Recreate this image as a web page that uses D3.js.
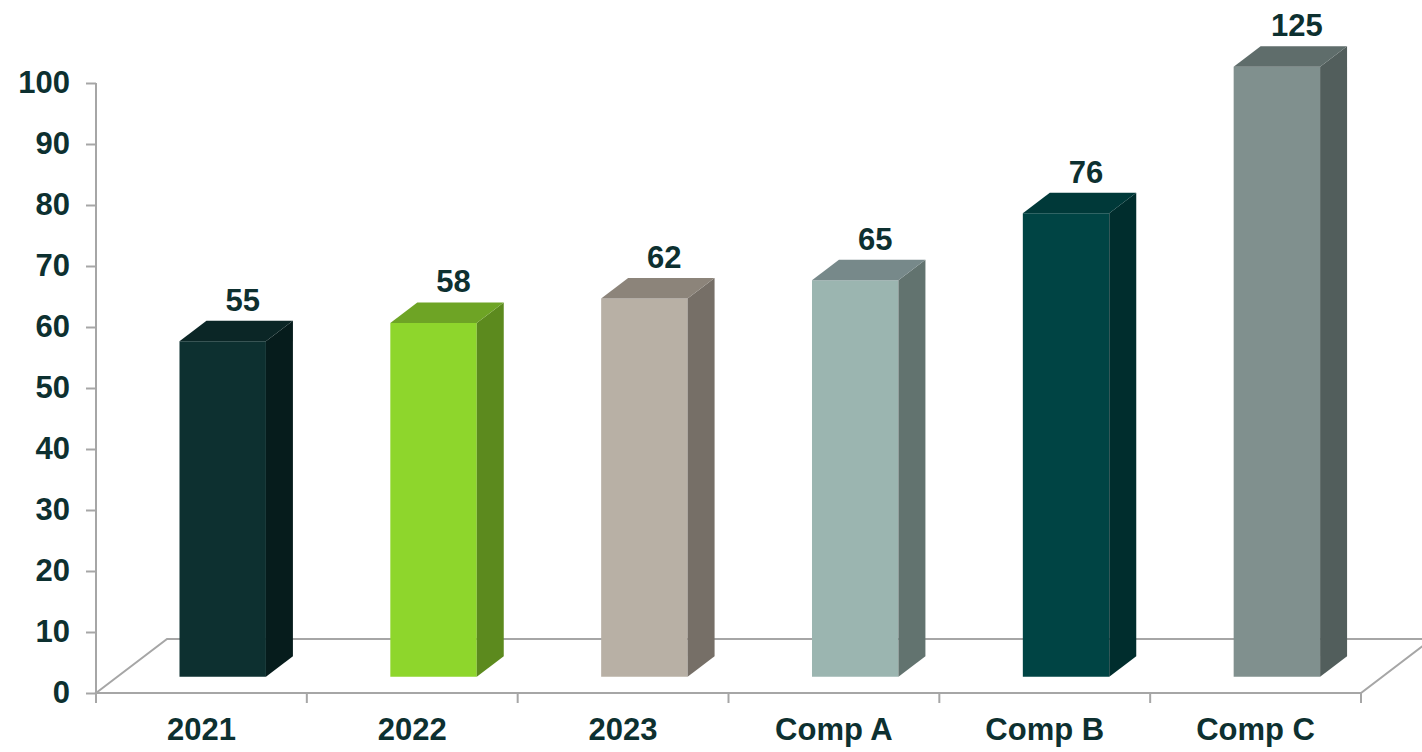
<!DOCTYPE html>
<html>
<head>
<meta charset="utf-8">
<script src="https://cdn.jsdelivr.net/npm/d3@7"></script>
<style>
  html, body { margin: 0; padding: 0; background: #ffffff; }
  svg { display: block; font-family: "Liberation Sans", Arial, sans-serif; }
</style>
</head>
<body>
<svg id="chart" width="1422" height="752"></svg>
<script>
// Categories and values
const categories = ["2021", "2022", "2023", "Comp A", "Comp B", "Comp C"];
const values = [55, 58, 62, 65, 76, 125];
const yTicks = [0, 10, 20, 30, 40, 50, 60, 70, 80, 90, 100];

// Face colours per bar: front, side, top
const frontColors = ["#0d3030", "#8ed62c", "#b8b0a5", "#9bb5b0", "#004444", "#80908e"];
const sideColors  = ["#061c1c", "#5c8a1e", "#766f67", "#62736f", "#002d2d", "#525e5c"];
const topColors   = ["#0b2626", "#6ea425", "#8c847a", "#77898a", "#003939", "#5f6d6b"];

const svg = d3.select("#chart");
const ink = "#0d3030";
const gridGray = "#a6a6a6";
const fontSize = 31;

// Front plane scales
const x = d3.scaleBand().domain(categories).range([96, 1361]).padding(0);
const y = d3.scaleLinear().domain([0, 100]).range([693, 83]).clamp(true);

// Depth vector for the full floor depth
const DX = 71, DY = -54;
const proj = (px, v, z) => [px + DX * z, y(v) + DY * z];

// Bar geometry in depth units
const zFront = 0.3, zBack = 0.68;
const barFrac = 0.41;

// Floor outline (closed)
const x0 = x.range()[0], x1 = x.range()[1];
const floor = svg.append("g").attr("fill", "none").attr("stroke", gridGray).attr("stroke-width", 2);
const fl = [proj(x0, 0, 0), proj(x0, 0, 1), proj(x1, 0, 1), proj(x1, 0, 0)];
floor.append("path").attr("d", d3.line()(fl) + "Z");

// Bars
const bars = svg.append("g");
const poly = pts => "M" + pts.map(p => p.join(",")).join("L") + "Z";
categories.forEach((c, i) => {
  const v = values[i];
  const bw = x.bandwidth() * barFrac;
  const cx = x(c) + x.bandwidth() / 2;
  const L = cx - bw / 2, R = cx + bw / 2;
  const g = bars.append("g");
  // front
  g.append("path").attr("fill", frontColors[i]).attr("d", poly([
    proj(L, 0, zFront), proj(R, 0, zFront), proj(R, v, zFront), proj(L, v, zFront)]));
  // right side
  g.append("path").attr("fill", sideColors[i]).attr("d", poly([
    proj(R, 0, zFront), proj(R, 0, zBack), proj(R, v, zBack), proj(R, v, zFront)]));
  // top
  g.append("path").attr("fill", topColors[i]).attr("d", poly([
    proj(L, v, zFront), proj(R, v, zFront), proj(R, v, zBack), proj(L, v, zBack)]));
  // value label
  const [tx, ty] = proj(cx, v, zBack);
  svg.append("text")
    .attr("x", tx - 7).attr("y", ty - 10)
    .attr("text-anchor", "middle")
    .attr("fill", ink)
    .attr("font-size", fontSize).attr("font-weight", "bold")
    .text(v);
});

// Y axis
const yAxis = svg.append("g").attr("transform", "translate(96,0)")
  .call(d3.axisLeft(y).tickValues(yTicks).tickSize(10).tickPadding(16));
yAxis.selectAll("path, line").attr("stroke", gridGray).attr("stroke-width", 2);
yAxis.select(".domain").attr("d", "M-0," + y(100) + "V" + (y(0) + 10));
yAxis.selectAll("text").attr("fill", ink).attr("font-size", fontSize).attr("font-weight", "bold")
  .attr("font-family", "Liberation Sans, Arial, sans-serif");

// X axis along the front floor edge
const xAxis = svg.append("g").attr("transform", "translate(0," + y(0) + ")")
  .call(d3.axisBottom(x).tickSize(0).tickPadding(25));
xAxis.select(".domain").remove();
xAxis.selectAll("text").attr("fill", ink).attr("font-size", fontSize).attr("font-weight", "bold")
  .attr("font-family", "Liberation Sans, Arial, sans-serif");
const edges = categories.map(c => x(c)).concat([x1]);
svg.append("g").selectAll("line").data(edges).join("line")
  .attr("x1", d => d).attr("x2", d => d)
  .attr("y1", y(0)).attr("y2", y(0) + 10)
  .attr("stroke", gridGray).attr("stroke-width", 2);
</script>
</body>
</html>
